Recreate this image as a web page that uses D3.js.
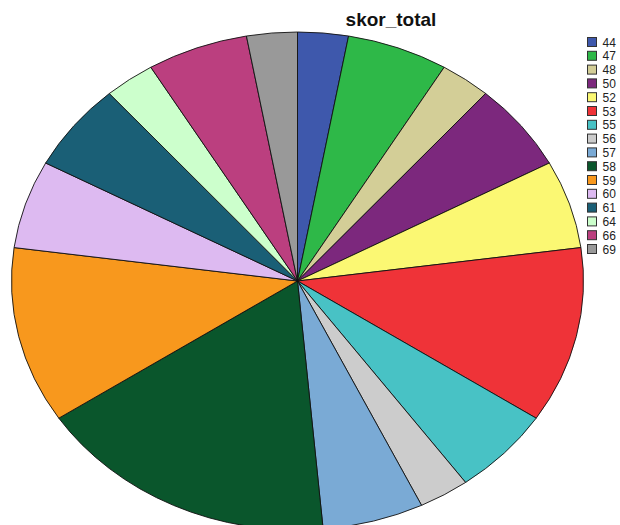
<!DOCTYPE html>
<html>
<head>
<meta charset="utf-8">
<script src="https://cdn.jsdelivr.net/npm/d3@7/dist/d3.min.js"></script>
<style>
  html, body { margin: 0; padding: 0; background: #fff; }
  svg { display: block; }
</style>
</head>
<body>
<svg id="chart" width="620" height="525"></svg>
<script>
// Frequency of each total score
const categories = ["44", "47", "48", "50", "52", "53", "55", "56", "57", "58", "59", "60", "61", "64", "66", "69"];
const counts     = [1, 2, 1, 2, 2, 4, 2, 1, 2, 6, 4, 2, 2, 1, 2, 1];
const colors     = ["#3E58AC", "#2EB848", "#D3CE97", "#7C287D", "#FBF873", "#EF3338", "#48C2C5", "#CCCCCC",
                    "#7AAAD5", "#0A562C", "#F8981D", "#DDBAF1", "#1A5F76", "#CCFFCC", "#BB3F7F", "#999999"];
const title = "skor_total";

const svg = d3.select("#chart");
const W = 620, H = 525;

const cx = 297.5, cy = 281, rx = 286, ry = 249;

const color = d3.scaleOrdinal().domain(categories).range(colors);

const data = categories.map((c, i) => ({ cat: c, n: counts[i] }));
const pie = d3.pie().sort(null).value(d => d.n);
const arc = d3.arc().innerRadius(0).outerRadius(ry);

// Elliptical pie: circle of radius ry stretched horizontally
const g = svg.append("g")
  .attr("transform", `translate(${cx},${cy}) scale(${rx / ry},1)`);

g.selectAll("path")
  .data(pie(data))
  .join("path")
  .attr("d", arc)
  .attr("fill", d => color(d.data.cat))
  .attr("stroke", "#111")
  .attr("stroke-width", 0.9)
  .attr("stroke-linejoin", "round")
  .attr("vector-effect", "non-scaling-stroke");

// Title
svg.append("text")
  .attr("x", 391)
  .attr("y", 26)
  .attr("text-anchor", "middle")
  .attr("font-family", "Liberation Sans, Arial, sans-serif")
  .attr("font-weight", "bold")
  .attr("font-size", 19)
  .attr("fill", "#111")
  .text(title);

// Legend
const legend = svg.append("g").attr("transform", "translate(587.5,37.5)");
const step = 13.8;
const items = legend.selectAll("g")
  .data(categories)
  .join("g")
  .attr("transform", (d, i) => `translate(0,${i * step})`);

items.append("rect")
  .attr("width", 9)
  .attr("height", 9)
  .attr("fill", d => color(d))
  .attr("stroke", "#333")
  .attr("stroke-width", 1);

items.append("text")
  .attr("x", 15)
  .attr("y", 9)
  .attr("font-family", "Liberation Sans, Arial, sans-serif")
  .attr("font-size", 12)
  .attr("fill", "#222")
  .text(d => d);
</script>
</body>
</html>
